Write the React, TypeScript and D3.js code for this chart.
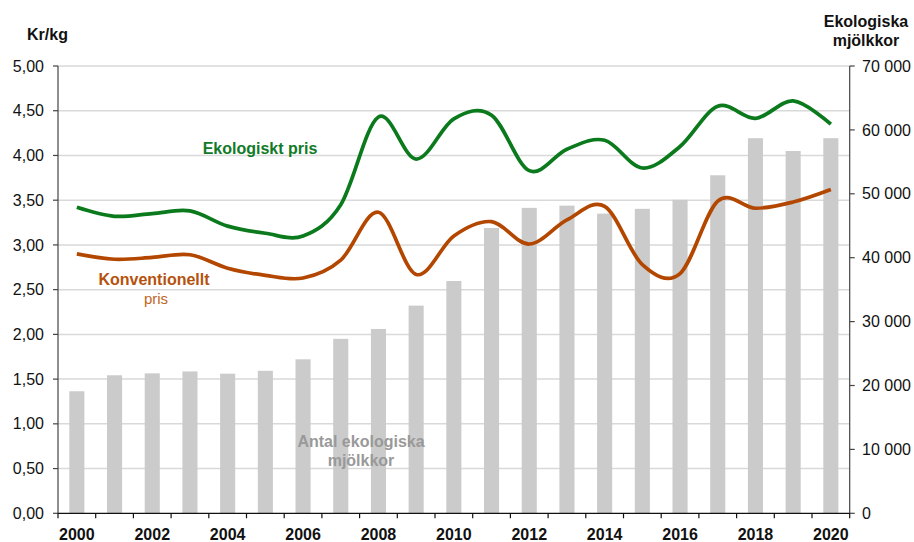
import React from "react";
import * as d3 from "d3";

const years = d3.range(2000, 2021).map(String);
const antalKor = [
  19100, 21600, 21900, 22200, 21850, 22300, 24100, 27300, 28850, 32500, 36350,
  44650, 47800, 48150, 46900, 47650, 49050, 52900, 58700, 56700, 58700,
];
const ekoPris = [
  3.42, 3.32, 3.35, 3.38, 3.21, 3.13, 3.1, 3.45, 4.43, 3.96, 4.41,
  4.45, 3.83, 4.07, 4.17, 3.86, 4.1, 4.55, 4.415, 4.61, 4.35,
];
const konvPris = [
  2.9, 2.84, 2.86, 2.89, 2.74, 2.66, 2.63, 2.83, 3.365, 2.67, 3.1,
  3.26, 3.01, 3.28, 3.43, 2.78, 2.68, 3.49, 3.41, 3.48, 3.62,
];
const leftTicks = d3.range(0, 5.01, 0.5);
const rightTicks = d3.range(0, 70001, 10000);
const yearLabels = years.filter((_, i) => i % 2 === 0);

const W = 914;
const H = 542;
const x0 = 58;
const x1 = 849.7;
const yTop = 66;
const yBot = 513.3;
const FONT = "'Liberation Sans', Arial, sans-serif";

const fmtLeft = (v: number) => v.toFixed(2).replace(".", ",");
const fmtRight = (v: number) =>
  v === 0 ? "0" : d3.format(",")(v).replace(/,/g, " ");

const App = () => {
  const x = d3.scaleBand().domain(years).range([x0, x1]).paddingInner(0.6).paddingOuter(0.3);
  const step = x.step();
  const cx = (y: string) => (x(y) as number) + x.bandwidth() / 2;
  const yL = d3.scaleLinear().domain([0, 5]).range([yBot, yTop]);
  const yR = d3.scaleLinear().domain([0, 70000]).range([yBot, yTop]);

  const line = (vals: number[]) =>
    d3
      .line<number>()
      .x((_, i) => cx(years[i]))
      .y((v) => yL(v))
      .curve(d3.curveCardinal.tension(0))(vals) as string;

  const boundaries = d3.range(0, years.length + 1).map((i) => x0 + i * step);

  return (
    <div style={{ position: "absolute", left: 0, top: 0 }}>
      <svg width={W} height={H} style={{ display: "block", background: "#fff" }} fontFamily={FONT}>
        {/* gridlines */}
        {leftTicks.slice(1).map((t) => (
          <line key={t} x1={x0} x2={x1} y1={yL(t)} y2={yL(t)} stroke="#d9d9d9" strokeWidth={1.5} />
        ))}
        {/* bars */}
        {antalKor.map((v, i) => (
          <rect
            key={years[i]}
            x={x(years[i])}
            y={yR(v)}
            width={x.bandwidth()}
            height={yBot - yR(v)}
            fill="#cbcbcb"
          />
        ))}
        {/* lines */}
        <path d={line(konvPris)} fill="none" stroke="#b34700" strokeWidth={3.7} />
        <path d={line(ekoPris)} fill="none" stroke="#0b7a1c" strokeWidth={3.7} />

        {/* left axis */}
        <line x1={x0} x2={x0} y1={yTop} y2={yBot} stroke="#444" strokeWidth={1.2} />
        {leftTicks.map((t) => (
          <g key={t}>
            <line x1={x0 - 5} x2={x0} y1={yL(t)} y2={yL(t)} stroke="#444" strokeWidth={1.2} />
            <text x={44} y={yL(t)} dy="0.35em" textAnchor="end" fontSize={16} fill="#111">
              {fmtLeft(t)}
            </text>
          </g>
        ))}
        {/* right axis */}
        <line x1={x1} x2={x1} y1={yTop} y2={yBot} stroke="#444" strokeWidth={1.2} />
        {rightTicks.map((t) => (
          <g key={t}>
            <line x1={x1} x2={x1 + 5} y1={yR(t)} y2={yR(t)} stroke="#444" strokeWidth={1.2} />
            <text x={862} y={yR(t)} dy="0.35em" textAnchor="start" fontSize={16} fill="#111">
              {fmtRight(t)}
            </text>
          </g>
        ))}
        {/* x axis */}
        <line x1={x0} x2={x1} y1={yBot} y2={yBot} stroke="#111" strokeWidth={1.2} />
        {boundaries.map((b, i) => (
          <line key={i} x1={b} x2={b} y1={yBot} y2={yBot + 5} stroke="#111" strokeWidth={1.2} />
        ))}
        {yearLabels.map((y) => (
          <text key={y} x={cx(y)} y={540} textAnchor="middle" fontSize={16} fontWeight="bold" fill="#111">
            {y}
          </text>
        ))}

        {/* titles */}
        <text x={27} y={40} fontSize={16} fontWeight="bold" fill="#111">Kr/kg</text>
        <text textAnchor="middle" fontSize={16} fontWeight="bold" fill="#111">
          <tspan x={866} y={27}>Ekologiska</tspan>
          <tspan x={866} y={46}>mjölkkor</tspan>
        </text>

        {/* series labels */}
        <text x={260} y={154} textAnchor="middle" fontSize={16} fontWeight="bold" fill="#117a28">
          Ekologiskt pris
        </text>
        <text x={154} y={285} textAnchor="middle" fontSize={16} fontWeight="bold" fill="#b5520d">
          Konventionellt
        </text>
        <text x={156} y={304} textAnchor="middle" fontSize={15} fill="#c0651e">
          pris
        </text>
        <text textAnchor="middle" fontSize={16} fontWeight="bold" fill="#999">
          <tspan x={361} y={447}>Antal ekologiska</tspan>
          <tspan x={361} y={466}>mjölkkor</tspan>
        </text>
      </svg>
    </div>
  );
};

export default App;
